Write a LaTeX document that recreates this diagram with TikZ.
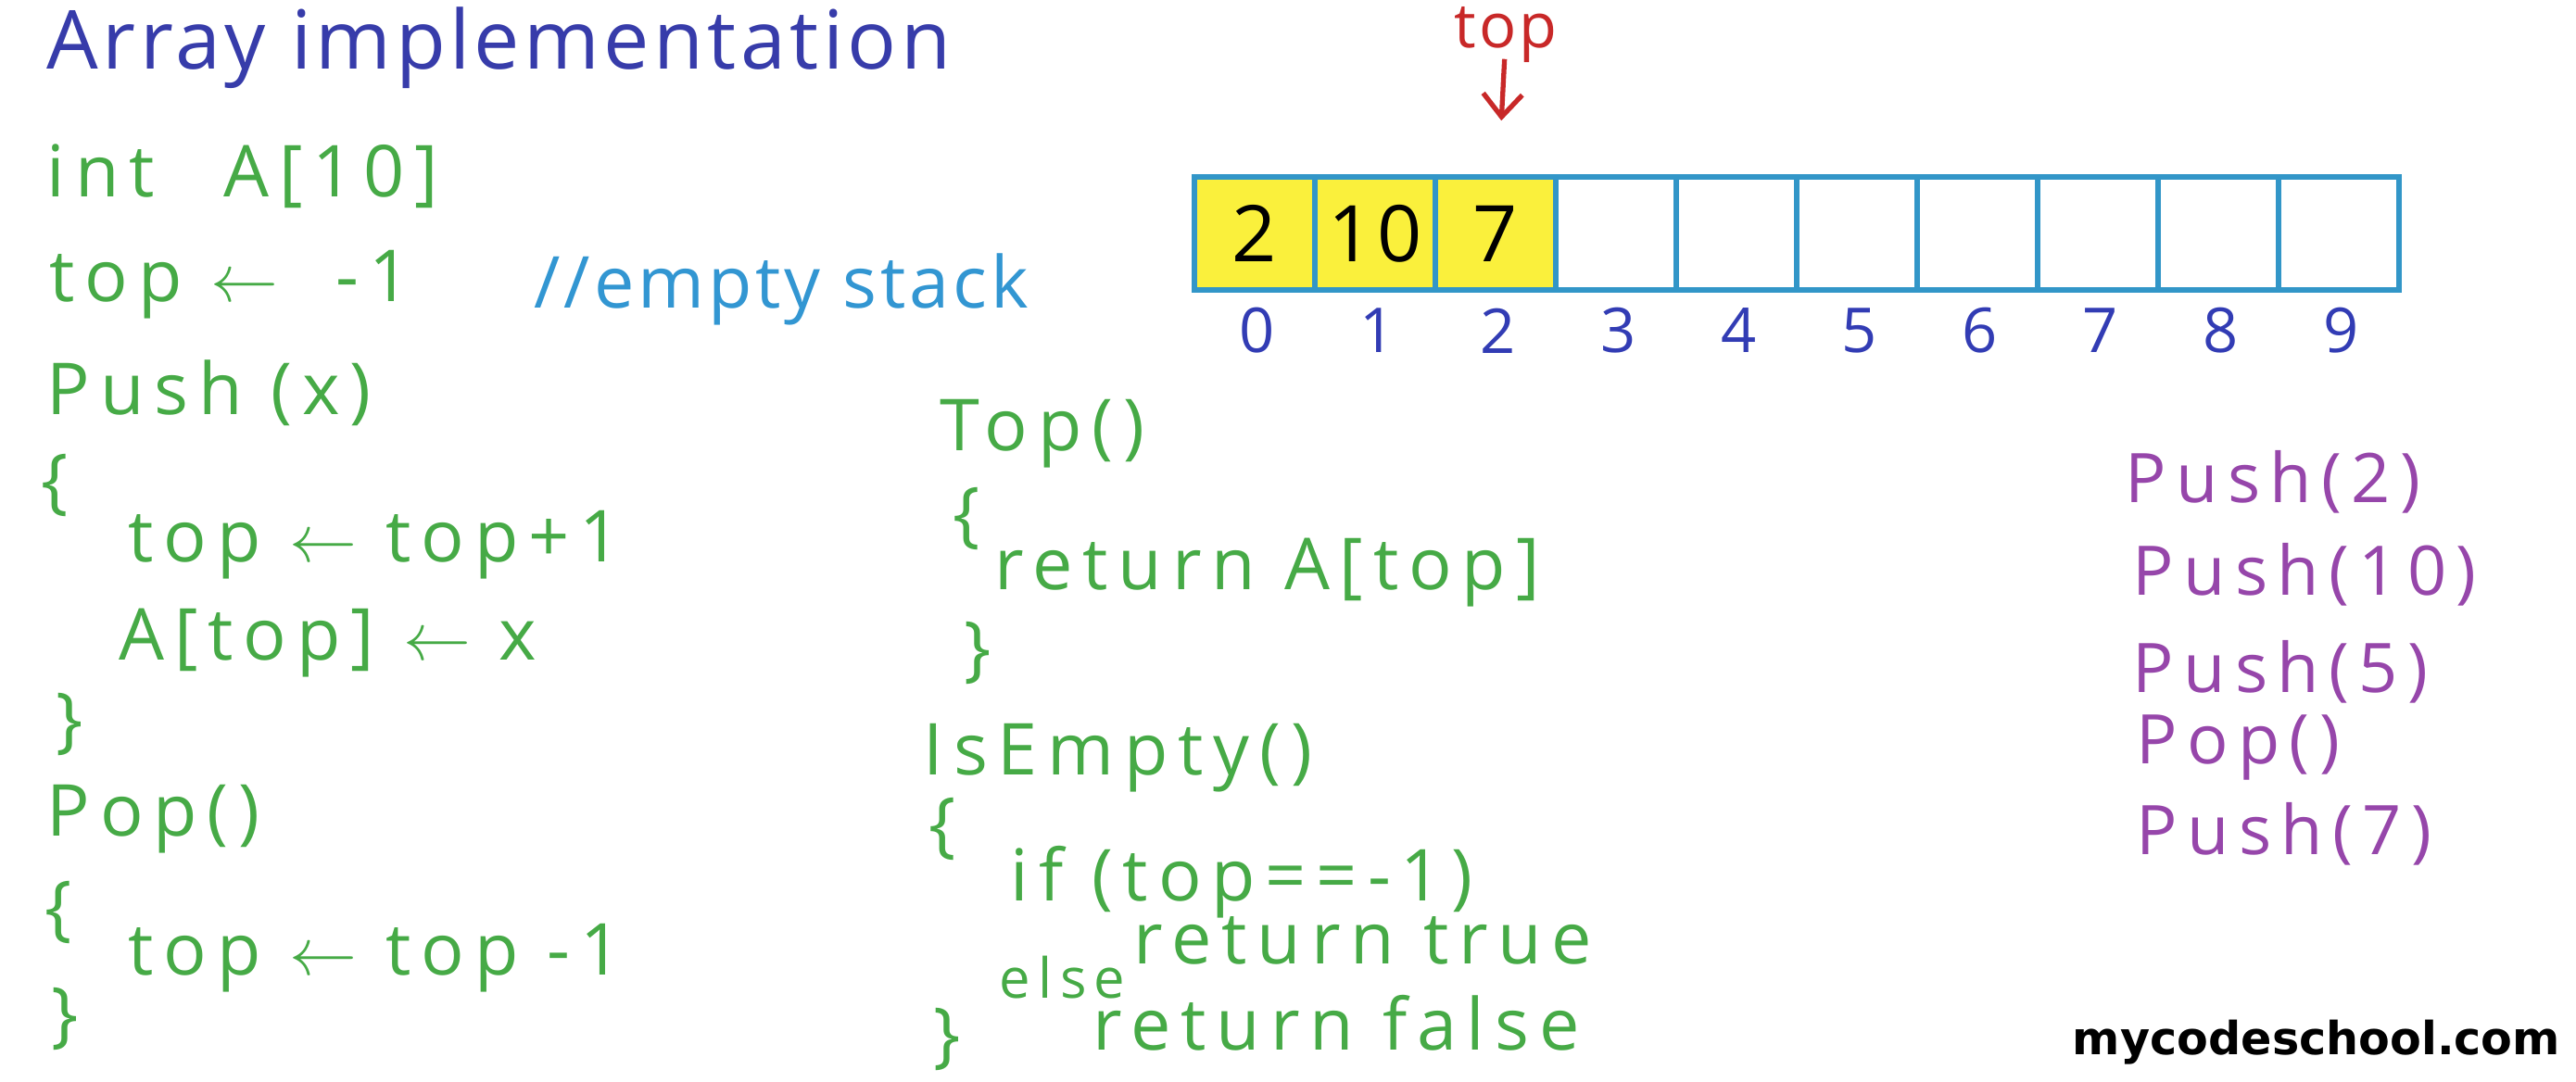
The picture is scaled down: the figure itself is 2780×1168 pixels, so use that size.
\documentclass[tikz,border=0pt]{standalone}
\usepackage{fontspec}
\setmainfont{Open Sans}
\newfontfamily\hand[LetterSpace=14]{Open Sans}
\newfontfamily\titlefont[LetterSpace=5]{Open Sans}
\newfontfamily\wmfont{DejaVu Sans}
\usetikzlibrary{arrows.meta}
\definecolor{codegreen}{RGB}{70,170,70}
\definecolor{titleblue}{RGB}{55,60,170}
\definecolor{noteblue}{RGB}{50,150,210}
\definecolor{cellblue}{RGB}{50,150,200}
\definecolor{idxblue}{RGB}{50,60,180}
\definecolor{callpurple}{RGB}{150,70,170}
\definecolor{topred}{RGB}{200,40,40}
\definecolor{cellyellow}{RGB}{250,240,60}
\tikzstyle{code}=[anchor=west, inner sep=0, text=codegreen, font=\hand\fontsize{22}{26}\selectfont]
\tikzstyle{title}=[code, text=titleblue, font=\titlefont\fontsize{25}{30}\selectfont]
\tikzstyle{note}=[code, text=noteblue, font=\titlefont\fontsize{22}{26}\selectfont]
\tikzstyle{call}=[code, text=callpurple, font=\hand\fontsize{21}{25}\selectfont]
\tikzstyle{cell}=[draw=cellblue, line width=1.6pt, minimum width=1.3cm, minimum height=1.22cm, inner sep=0, font=\titlefont\fontsize{24}{28}\selectfont]
\tikzstyle{idx}=[text=idxblue, inner sep=0, font=\titlefont\fontsize{19}{22}\selectfont]

\begin{document}
\begin{tikzpicture}[x=.01cm, y=-.01cm]
\useasboundingbox (0,0) rectangle (2780,1168);
\node at (50,52)[title](title){Array implementation};
\node at (50,190)[code](decl){int\ \ \,A[10]};
\node at (53,307)[code](init){top $\leftarrow$\ \ -1};
\node at (576,312)[note](note){//empty stack};
% Push
\node at (50,424)[code](push){Push (x)};
\node at (44,524)[code](pushopen){\{};
\node at (138,588)[code](push1){top $\leftarrow$ top+1};
\node at (128,694)[code](push2){A[top] $\leftarrow$ x};
\node at (60,782)[code](pushclose){\}};
% Pop
\node at (50,884)[code](pop){Pop()};
\node at (48,985)[code](popopen){\{};
\node at (138,1034)[code](pop1){top $\leftarrow$ top -1};
\node at (55,1100)[code](popclose){\}};
% Top
\node at (1014,468)[code](top){Top()};
\node at (1028,560)[code](topopen){\{};
\node at (1073,618)[code](top1){return A[top]};
\node at (1040,705)[code](topclose){\}};
% IsEmpty
\node at (996,818)[code](empty){IsEmpty()};
\node at (1002,895)[code](emptyopen){\{};
\node at (1090,952)[code](empty1){if (top==-1)};
\node at (1223,1015)[code](empty2){return true};
\node at (1078,1055)[code, font=\hand\fontsize{17}{20}\selectfont](empty3){else};
\node at (1179,1104)[code](empty4){return false};
\node at (1007,1122)[code](emptyclose){\}};
% calls
\node at (2293,520)[call](call1){Push(2)};
\node at (2301,620)[call](call2){Push(10)};
\node at (2301,725)[call](call3){Push(5)};
\node at (2305,807)[call](call4){Pop()};
\node at (2305,900)[call](call5){Push(7)};
% array
\foreach \i in {3,...,9} {\node at (1354+130*\i,252)[cell](c\i){};}
\foreach \i/\v in {0/2,1/10,2/7} {\node at (1354+130*\i,252)[cell, fill=cellyellow](c\i){\v};}
\foreach \i in {0,...,9} {\node at (1357+130*\i,357)[idx](i\i){\i};}
\node at (1625,38)[idx, text=topred, font=\titlefont\fontsize{19}{23}\selectfont](toplbl){top};
\draw[-{Straight Barb[length=7pt, width=12pt]}, topred, line width=1.5pt, shorten <=-.05cm, shorten >=.58cm] (toplbl) -- (c2);
\node at (2500,1125)[font=\wmfont\bfseries\fontsize{14}{17}\selectfont](wm){mycodeschool.com};
\end{tikzpicture}
\end{document}
